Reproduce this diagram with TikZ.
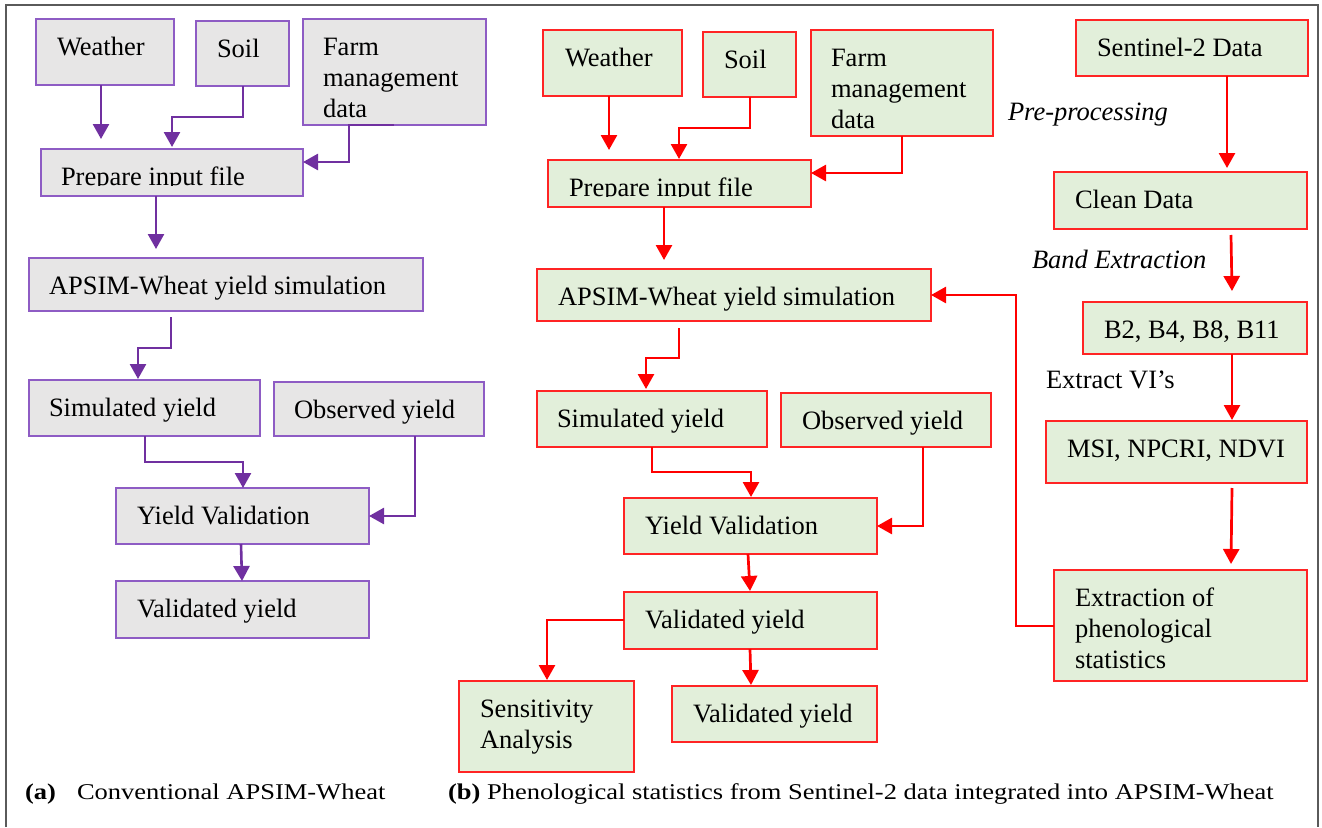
\documentclass[tikz,border=0pt]{standalone}
\usepackage{fontspec}
\setmainfont{Liberation Serif}
\usepackage{graphicx}
\usetikzlibrary{calc,arrows.meta}
\definecolor{pur}{HTML}{7030A0}
\definecolor{purb}{HTML}{8E5CC4}
\definecolor{grayf}{HTML}{E7E6E6}
\definecolor{grnf}{HTML}{E2EFDA}
\definecolor{redb}{HTML}{FF2424}
\definecolor{framec}{HTML}{5A5A5A}
\tikzset{
 gbox/.style={draw=purb, fill=grayf, line width=1.4pt, inner sep=0pt, outer sep=0pt},
 ebox/.style={draw=redb, fill=grnf, line width=1.4pt, inner sep=0pt, outer sep=0pt},
 txt/.style={inner sep=0pt, outer sep=0pt, align=left, font=\fontsize{26.5}{31}\selectfont},
 parr/.style={draw=pur, line width=2.6pt, -{Triangle[length=15pt,width=16pt]}},
 rarr/.style={draw=red, line width=2.7pt, -{Triangle[length=15pt,width=16pt]}},
 lbl/.style={inner sep=0pt, outer sep=0pt, font=\fontsize{26.5}{31}\selectfont, anchor=base west},
}
% style, name, x1, y1, x2, y2, text x-offset, text
\newcommand\bx[8]{%
  \node[#1, anchor=north west, minimum width={(#5)-(#3)}, minimum height={(#6)-(#4)}] (#2) at (#3,#4) {};
  \node[txt, anchor=north west] at ($(#2.north west)+(#7,16)$) {\rule{0pt}{20pt}#8};
}
\begin{document}
\begin{tikzpicture}[x=1pt,y=-1pt]
\useasboundingbox (0,0) rectangle (1322,827);
\fill[white] (0,0) rectangle (1322,827);
\draw[framec, line width=2pt] (6,827) -- (6,5) -- (1318,5) -- (1318,827);

% ---------- panel (a) ----------
\bx{gbox}{wa}{36}{19}{174}{85}{21}{Weather}
\bx{gbox}{sa}{196}{21}{289}{86}{21}{Soil}
\bx{gbox}{fa}{303}{19}{486}{125}{20}{Farm\\management\\data}
\node[gbox, anchor=north west, minimum width=262, minimum height=47] (pa) at (41,149) {};
\begin{scope}
 \clip (pa.north west) rectangle ($(pa.north east)+(0,36.5)$);
 \node[txt, anchor=north west] at ($(pa.north west)+(20,16)$) {\rule{0pt}{20pt}Prepare input file};
\end{scope}
\bx{gbox}{aa}{29}{258}{423}{311}{20}{APSIM-Wheat yield simulation}
\bx{gbox}{sima}{29}{380}{260}{436}{20}{Simulated yield}
\bx{gbox}{oba}{274}{382}{484}{436}{20}{Observed yield}
\bx{gbox}{yva}{116}{488}{369}{544}{21}{Yield Validation}
\bx{gbox}{vaa}{116}{581}{369}{638}{21}{Validated yield}

\draw[parr] (101,0 |- wa.south) -- ($(101,0 |- pa.north)+(0,-10)$);
\draw[parr] (243,0 |- sa.south) -- (243,117) -- (172,117) -- ($(172,0 |- pa.north)+(0,-2)$);
\draw[parr] (394,0 |- fa.south) -- (349,0 |- fa.south) -- (349,162) -- (pa.east |- 0,162);
\draw[parr] (156,0 |- pa.south) -- ($(156,0 |- aa.north)+(0,-9)$);
\draw[parr] ($(171,0 |- aa.south)+(0,6)$) -- (171,348) -- (138,348) -- ($(138,0 |- sima.north)+(0,-1)$);
\draw[parr] (145,0 |- sima.south) -- (145,462) -- (243,462) -- (243,0 |- yva.north);
\draw[parr] (415,0 |- oba.south) -- (415,516) -- (yva.east |- 0,516);
\draw[parr] (241,0 |- yva.south) -- (242,0 |- vaa.north);

% ---------- panel (b) ----------
\bx{ebox}{wb}{543}{30}{682}{96}{22}{Weather}
\bx{ebox}{sb}{703}{32}{796}{97}{21}{Soil}
\bx{ebox}{fb}{811}{30}{993}{136}{20}{Farm\\management\\data}
\node[ebox, anchor=north west, minimum width=263, minimum height=47] (pb) at (548,160) {};
\begin{scope}
 \clip (pb.north west) rectangle ($(pb.north east)+(0,36.5)$);
 \node[txt, anchor=north west] at ($(pb.north west)+(21,16)$) {\rule{0pt}{20pt}Prepare input file};
\end{scope}
\bx{ebox}{ab}{537}{269}{931}{321}{21}{APSIM-Wheat yield simulation}
\bx{ebox}{simb}{537}{391}{767}{447}{20}{Simulated yield}
\bx{ebox}{obb}{781}{393}{991}{447}{21}{Observed yield}
\bx{ebox}{yvb}{624}{498}{877}{554}{21}{Yield Validation}
\bx{ebox}{vab}{624}{592}{877}{649}{21}{Validated yield}
\bx{ebox}{seb}{459}{681}{634}{772}{21}{Sensitivity\\Analysis}
\bx{ebox}{vab2}{672}{686}{877}{742}{21}{Validated yield}
\bx{ebox}{sen}{1076}{20}{1308}{76}{21}{Sentinel-2 Data}
\bx{ebox}{cl}{1054}{172}{1307}{229}{21}{Clean Data}
\bx{ebox}{bb}{1083}{302}{1307}{354}{21}{B2, B4, B8, B11}
\bx{ebox}{ms}{1046}{421}{1307}{483}{21}{MSI, NPCRI, NDVI}
\bx{ebox}{ex}{1054}{570}{1307}{681}{21}{Extraction of\\phenological\\statistics}

\node[lbl] (pp) at (1008,120) {\textit{Pre-processing}};
\node[lbl] (be) at (1032,268) {\textit{Band Extraction}};
\node[lbl] (ev) at (1046,388) {Extract VI’s};

\draw[rarr] (609,0 |- wb.south) -- ($(609,0 |- pb.north)+(0,-10)$);
\draw[rarr] (750,0 |- sb.south) -- (750,128) -- (679,128) -- ($(679,0 |- pb.north)+(0,-1)$);
\draw[rarr] (902,0 |- fb.south) -- (902,173) -- (pb.east |- 0,173);
\draw[rarr] (664,0 |- pb.south) -- ($(664,0 |- ab.north)+(0,-9)$);
\draw[rarr] ($(679,0 |- ab.south)+(0,7)$) -- (679,358) -- (646,358) -- ($(646,0 |- simb.north)+(0,-2)$);
\draw[rarr] (652,0 |- simb.south) -- (652,472) -- (751,472) -- ($(751,0 |- yvb.north)+(0,-1)$);
\draw[rarr] (923,0 |- obb.south) -- (923,526) -- (yvb.east |- 0,526);
\draw[rarr] (748,0 |- yvb.south) -- ($(750,0 |- vab.north)+(0,-1)$);
\draw[rarr] (vab.west |- 0,620) -- (547,620) -- ($(547,0 |- seb.north)+(0,-1)$);
\draw[rarr] (750,0 |- vab.south) -- ($(751,0 |- vab2.north)+(0,-1)$);
\draw[rarr] (ex.west |- 0,626) -- (1016,626) -- (1016,295) -- (ab.east |- 0,295);
\draw[rarr] (1227,0 |- sen.south) -- ($(1227,0 |- cl.north)+(0,-4)$);
\draw[rarr] ($(1231,0 |- cl.south)+(0,6)$) -- ($(1232,0 |- bb.north)+(0,-11)$);
\draw[rarr] (1232,0 |- bb.south) -- ($(1232,0 |- ms.north)+(0,-1)$);
\draw[rarr] ($(1232,0 |- ms.south)+(0,5)$) -- ($(1231,0 |- ex.north)+(0,-6)$);

% ---------- captions ----------
\node[lbl] (capa) at (25,799) {\scalebox{1}[0.85]{\textbf{(a)}}};
\node[lbl] (capat) at (77,799) {\scalebox{1}[0.85]{Conventional APSIM-Wheat}};
\node[lbl] (capb) at (448,799) {\scalebox{1}[0.85]{\textbf{(b)} Phenological statistics from Sentinel-2 data integrated into APSIM-Wheat}};
\end{tikzpicture}
\end{document}
